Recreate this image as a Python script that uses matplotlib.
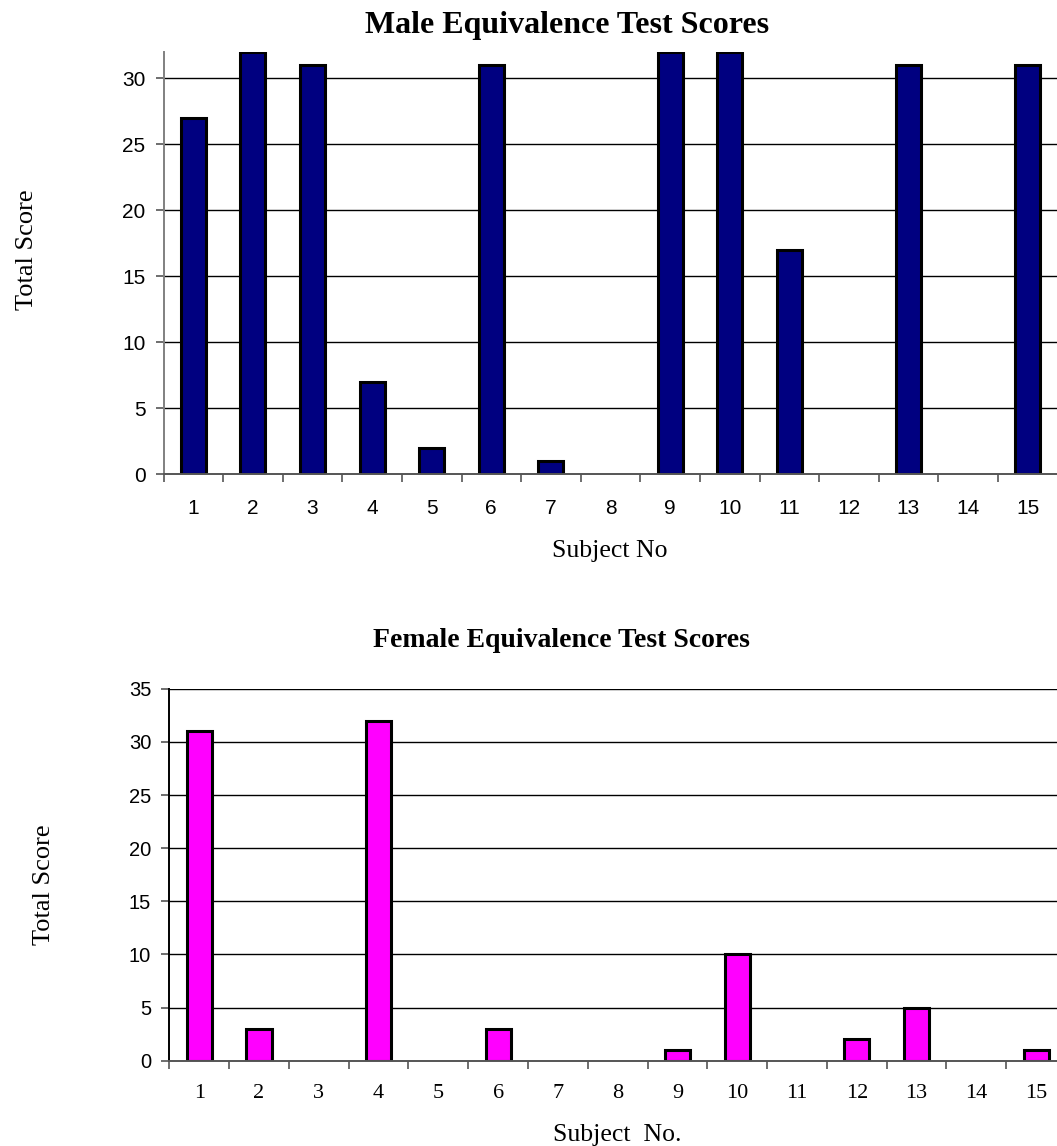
import matplotlib
matplotlib.use("Agg")
import matplotlib.pyplot as plt
from matplotlib.ticker import FixedLocator

subjects = [str(i) for i in range(1, 16)]
male_scores = [27, 32, 31, 7, 2, 31, 1, 0, 32, 32, 17, 0, 31, 0, 31]
female_scores = [31, 3, 0, 32, 0, 3, 0, 0, 1, 10, 0, 2, 5, 0, 1]

W, H = 1057, 1146
fig = plt.figure(figsize=(W / 100, H / 100), dpi=100)

def px_axes(left, top, right, bottom):
    return fig.add_axes([left / W, (H - bottom) / H, (right - left) / W, (bottom - top) / H])

serif = "Liberation Serif"
sans = "Liberation Sans"

def style(ax, values, color, ymax, ytick_max, xtick_font, xtick_size, xpad, ytick_size, spine_left_color):
    x = list(range(len(values)))
    ax.set_axisbelow(True)
    lws = [2.2 if v > 0 else 0 for v in values]
    ax.bar(x, values, width=0.42, color=color, edgecolor="black", linewidth=lws, zorder=3)
    ax.set_xlim(-0.5, len(values) - 0.5)
    ax.set_ylim(0, ymax)
    ax.set_yticks(list(range(0, ytick_max + 1, 5)))
    for yv in range(5, ytick_max + 1, 5):
        ax.axhline(yv, color="black", linewidth=1.0, zorder=1)
    ax.xaxis.set_major_locator(FixedLocator(x))
    ax.set_xticklabels(subjects)
    ax.xaxis.set_minor_locator(FixedLocator([i - 0.5 for i in range(len(values) + 1)]))
    ax.tick_params(axis="x", which="major", length=0, pad=xpad)
    ax.tick_params(axis="x", which="minor", length=6, width=1.2, color="#555555", direction="out")
    ax.tick_params(axis="y", length=6, width=1.2, color="#555555", direction="out", pad=7)
    for lab in ax.get_xticklabels():
        lab.set_fontfamily(xtick_font)
        lab.set_fontsize(xtick_size)
    for lab in ax.get_yticklabels():
        lab.set_fontfamily(sans)
        lab.set_fontsize(ytick_size)
    for s in ["top", "right"]:
        ax.spines[s].set_visible(False)
    ax.spines["left"].set_color(spine_left_color)
    ax.spines["left"].set_linewidth(1.4)
    ax.spines["bottom"].set_color("#555555")
    ax.spines["bottom"].set_linewidth(1.4)
    ax.spines["bottom"].set_zorder(4)

ax1 = px_axes(163.5, 52, 1057.5, 474.3)
style(ax1, male_scores, "#000080", 32, 30, sans, 15, 17.5, 15, "#808080")

ax2 = px_axes(169.3, 688.8, 1066, 1060.7)
style(ax2, female_scores, "#FF00FF", 35, 35, serif, 16, 16.5, 14.5, "black")

fig.text(567.5 / W, 1 - 33 / H, "Male Equivalence Test Scores", ha="center", va="baseline",
         fontfamily=serif, fontweight="bold", fontsize=23)
fig.text(561 / W, 1 - 647 / H, "Female Equivalence Test Scores", ha="center", va="baseline",
         fontfamily=serif, fontweight="bold", fontsize=20)
fig.text(610 / W, 1 - 557 / H, "Subject No", ha="center", va="baseline",
         fontfamily=serif, fontsize=18.5)
fig.text(617.5 / W, 1 - 1141 / H, "Subject  No.", ha="center", va="baseline",
         fontfamily=serif, fontsize=18.5)
fig.text(27 / W, 1 - 250 / H, "Total Score", ha="center", va="center", rotation=90,
         fontfamily=serif, fontsize=19)
fig.text(44 / W, 1 - 885 / H, "Total Score", ha="center", va="center", rotation=90,
         fontfamily=serif, fontsize=19)

fig.savefig("out.png", dpi=100)
